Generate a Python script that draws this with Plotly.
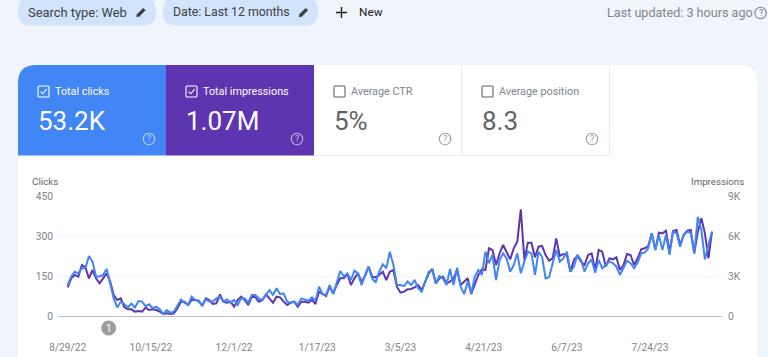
import pandas as pd
import plotly.graph_objects as go

W, H = 768, 357
START_DATE = "2022-08-29"
STEP_DAYS = 2

clicks = [116,148,166,160,179,179,225,204,148,148,154,176,122,66,32,54,45,32,47,32,
          56,54,37,44,29,35,25,8,22,12,16,37,62,50,41,72,60,54,41,62,
          54,54,66,72,54,62,50,60,41,66,66,50,79,79,66,60,79,97,79,104,
          82,85,54,50,54,41,66,60,57,70,57,110,82,79,116,82,122,169,148,160,
          135,170,160,116,154,185,141,125,166,194,179,241,191,116,116,112,129,116,135,104,
          91,129,166,172,122,150,141,116,176,116,181,110,82,129,85,148,172,154,241,198,
          229,135,210,235,216,166,191,235,160,204,241,235,154,241,222,141,145,198,248,204,
          216,241,166,185,229,210,166,198,212,162,210,179,191,204,198,185,154,179,207,198,
          179,200,235,238,254,310,248,304,248,304,229,316,310,260,304,316,312,235,372,322,
          212,266,316]

impressions = [2150,2825,3075,2950,3825,3650,2825,3450,2825,2450,2825,3200,2575,1575,1200,1325,650,500,500,325,
               375,325,625,450,500,450,325,150,200,150,200,575,1075,1075,825,1200,1200,1150,750,1325,
               1200,900,950,1625,1075,1000,1075,700,1200,1450,1200,825,1450,1400,1075,1200,1625,1325,1000,1450,
               1400,1075,825,1000,1075,700,1075,1075,1000,1200,900,1825,1650,1500,2200,1700,2325,2825,2825,3150,
               2325,2825,3200,2575,3000,3700,2950,2900,3075,3325,2700,3325,3450,2200,1750,1825,2000,2025,2150,2325,
               1950,2575,3200,3525,2450,2825,2950,2450,2575,2825,3450,2325,2575,2825,1650,2450,3075,3500,3450,5075,
               4950,3825,4700,5325,4825,4250,5075,5575,8000,4200,5500,5500,4400,5200,5250,4575,4150,4325,5825,4500,
               4650,4575,3325,4200,4525,4075,3825,4575,4700,3450,4950,4825,3700,4325,4250,4400,3450,3825,4650,4575,
               3825,4325,5000,5075,5250,6200,4950,6250,6200,6400,4825,6375,6450,5325,6075,6400,6450,4700,6325,7325,
               6200,4325,6325]

x_tick_dates = ["2022-08-29","2022-10-15","2022-12-01","2023-01-17","2023-03-05","2023-04-21","2023-06-07","2023-07-24"]
x_tick_labels = ["8/29/22","10/15/22","12/1/22","1/17/23","3/5/23","4/21/23","6/7/23","7/24/23"]
clicks_ticks = [0,150,300,450]
clicks_tick_labels = ["0","150","300","450"]
impr_ticks = [0,3000,6000,9000]
impr_tick_labels = ["0","3K","6K","9K"]

dates = pd.date_range(START_DATE, periods=len(clicks), freq=f"{STEP_DAYS}D")

BG = "#f0f4fb"
BLUE = "#4285f4"
PURPLE = "#5e35b1"
GREY = "#80868b"
FONT = "Roboto"

def px(x): return x / W
def py(y): return 1 - y / H

shapes = []
annots = []

def rect(x0, y0, x1, y1, fill, line=None):
    shapes.append(dict(type="rect", xref="paper", yref="paper", x0=px(x0), x1=px(x1), y0=py(y0), y1=py(y1),
                       fillcolor=fill, line=dict(width=1 if line else 0, color=line or fill), layer="below"))

def path(points, fill=None, line=None, width=1.2, layer="below"):
    d = ""
    for p in points:
        if isinstance(p, str):
            d += p + " "
        else:
            d += f"{px(p[0]):.5f},{py(p[1]):.5f} "
    shapes.append(dict(type="path", xref="paper", yref="paper", path=d.strip(), fillcolor=fill or "rgba(0,0,0,0)",
                       line=dict(width=width if line else 0, color=line or "rgba(0,0,0,0)"), layer=layer))

def rounded(x0, y0, x1, y1, tl, tr, bl, br, fill):
    pts = ["M", (x0 + tl, y0), "L", (x1 - tr, y0), "Q", (x1, y0), (x1, y0 + tr), "L", (x1, y1 - br),
           "Q", (x1, y1), (x1 - br, y1), "L", (x0 + bl, y1), "Q", (x0, y1), (x0, y1 - bl), "L", (x0, y0 + tl),
           "Q", (x0, y0), (x0 + tl, y0), "Z"]
    path(pts, fill=fill)

def text(x, y, s, size, color, anchor="left"):
    annots.append(dict(x=px(x), y=py(y), xref="paper", yref="paper", text=s, showarrow=False, xanchor=anchor,
                       yanchor="middle", borderpad=0, font=dict(family=FONT, size=size, color=color)))

def circle(cx, cy, r, fill=None, line=None, width=1.1):
    shapes.append(dict(type="circle", xref="paper", yref="paper", x0=px(cx - r), x1=px(cx + r), y0=py(cy - r), y1=py(cy + r),
                       fillcolor=fill or "rgba(0,0,0,0)", line=dict(width=width if line else 0, color=line or "rgba(0,0,0,0)"), layer="below"))

def question(cx, cy, color):
    circle(cx, cy, 5.7, line=color)
    text(cx, cy, "?", 9, color, anchor="center")

def checkbox(x, y, color, checked, check_color=None):
    rect_pts = ["M", (x + 1, y), "L", (x + 10, y), "Q", (x + 11, y), (x + 11, y + 1), "L", (x + 11, y + 10),
                "Q", (x + 11, y + 11), (x + 10, y + 11), "L", (x + 1, y + 11), "Q", (x, y + 11), (x, y + 10), "L", (x, y + 1),
                "Q", (x, y), (x + 1, y), "Z"]
    path(rect_pts, line=color, width=1.1)
    if checked:
        path(["M", (x + 2.6, y + 5.6), "L", (x + 4.8, y + 7.8), "L", (x + 8.6, y + 3.2)], line=check_color or color, width=1.1)

def pencil(cx, cy):
    path(["M", (cx - 4.5, cy + 4.5), "L", (cx - 4.2, cy + 1.8), "L", (cx + 2.2, cy - 4.6), "L", (cx + 4.6, cy - 2.2),
          "L", (cx - 1.8, cy + 4.2), "Z"], fill="#3c4043")

# page
rect(0, 0, W, H, BG)
# chips
rounded(18, -3, 156, 25.5, 14, 14, 13, 13, "#d2e3fc")
rounded(163, -3, 318, 25.5, 14, 14, 13, 13, "#d2e3fc")
text(27, 12.5, "Search type: Web", 12.9, "#3c4043")
pencil(141, 12.5)
text(171.5, 12.5, "Date: Last 12 months", 12.3, "#3c4043")
pencil(303.5, 12.5)
path(["M", (336, 12.5), "L", (347, 12.5), "M", (341.5, 7), "L", (341.5, 18)], line="#202124", width=1.4)
text(357.5, 12.5, "New", 11.8, "#202124")
text(606, 12.5, "Last updated: 3 hours ago", 12.6, GREY)
question(760.5, 13, GREY)

# card
rounded(18, 65, 757, 372, 18, 18, 0, 0, "#ffffff")
rounded(18, 65, 166, 155.5, 18, 0, 0, 0, BLUE)
rect(166, 65, 314, 155.5, "#5e35b1")
path(["M", (314, 155.5), "L", (610, 155.5), "M", (461.5, 65), "L", (461.5, 155.5), "M", (609.7, 65), "L", (609.7, 155.5)],
     line="#e8eaed", width=1)

metrics = [
    (38, 53.5, 37, "Total clicks", "53.2K", "#ffffff", True, 149, "#b9cffb"),
    (186, 201.5, 185, "Total impressions", "1.07M", "#ffffff", True, 297, "#c6b6e4"),
    (334, 349.5, 333, "Average CTR", "5%", "#80868b", False, 445, "#9aa0a6"),
    (482, 497.5, 480.5, "Average position", "8.3", "#80868b", False, 592, "#9aa0a6"),
]
for cbx, tx, vx, label, val, col, chk, qx, qc in metrics:
    checkbox(cbx, 86, col if chk else "#5f6368", chk)
    text(tx, 92, label, 10.8, col if chk else "#80868b")
    text(vx, 120.5, val, 26, col if chk else "#5f6368")
    question(qx, 139, qc)

# axis titles
text(30.5, 181.5, "Clicks", 9.8, "#5f6368")
text(744.5, 181.5, "Impressions", 9.7, "#5f6368", anchor="right")

# annotation marker
circle(108.7, 328, 7.5, fill="#9e9e9e")
text(108.7, 328, "1", 10, "#ffffff", anchor="center")

fig = go.Figure()
fig.add_trace(go.Scatter(x=dates, y=impressions, yaxis="y", mode="lines", name="Impressions",
                         line=dict(color=PURPLE, width=2), hoverinfo="skip"))
fig.add_trace(go.Scatter(x=dates, y=clicks, yaxis="y2", mode="lines", name="Clicks",
                         line=dict(color=BLUE, width=2), hoverinfo="skip"))

t0 = pd.Timestamp(START_DATE)
x0 = t0 + pd.Timedelta(days=(58 - 67.7) / 1.77)
x1 = t0 + pd.Timedelta(days=(722 - 67.7) / 1.77)

tickfont = dict(family=FONT, size=10.2, color=GREY)
fig.update_layout(
    template="none",
    width=W, height=H, margin=dict(l=0, r=0, t=0, b=0, pad=0, autoexpand=False), autosize=False,
    paper_bgcolor=BG, plot_bgcolor="rgba(0,0,0,0)", showlegend=False,
    shapes=shapes, annotations=annots,
    xaxis=dict(automargin=False, domain=[px(58), px(722)], range=[x0, x1], tickmode="array", tickvals=x_tick_dates, ticktext=x_tick_labels,
               showgrid=False, zeroline=False, showline=False, ticks="", tickfont=tickfont, ticklabelstandoff=24, tickangle=0),
    yaxis=dict(automargin=False, domain=[py(316), py(196)], range=[0, 9000], side="right", tickmode="array", tickvals=impr_ticks, ticktext=impr_tick_labels,
               showgrid=True, gridcolor="#f1f3f4", gridwidth=1, zeroline=True, zerolinecolor="#bdc1c6", zerolinewidth=1,
               showline=False, ticks="", tickfont=tickfont, ticklabelstandoff=5, anchor="x"),
    yaxis2=dict(automargin=False, domain=[py(316), py(196)], range=[0, 450], overlaying="y", side="left", anchor="x", tickmode="array",
                tickvals=clicks_ticks, ticktext=clicks_tick_labels, showgrid=False, zeroline=False, showline=False,
                ticks="", tickfont=tickfont, ticklabelstandoff=4),
)

fig.write_html("out.html", config=dict(displayModeBar=False),
               post_script="document.body.style.margin='0';document.documentElement.style.overflow='hidden';")
